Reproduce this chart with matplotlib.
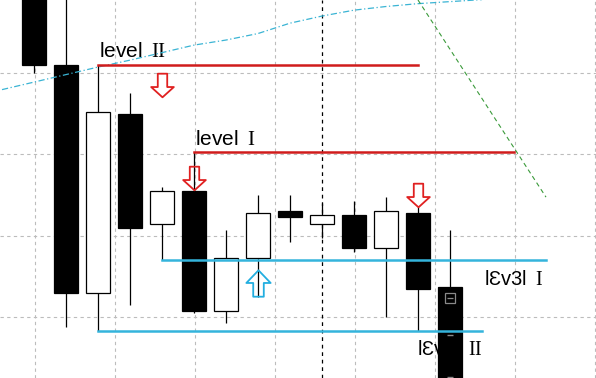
import numpy as np
import matplotlib.pyplot as plt
from matplotlib.path import Path

plt.rcParams['font.family'] = ['Liberation Sans', 'DejaVu Sans']
plt.rcParams['mathtext.fontset'] = 'custom'
plt.rcParams['mathtext.rm'] = 'Liberation Serif'

# bars (left to right), MT4 style
opens  = [1.3246, 1.3204, 1.3092, 1.3180, 1.3126, 1.3142, 1.3083, 1.3109, 1.3132, 1.3126, 1.3130, 1.3114, 1.3131, 1.3095]
highs  = [1.3251, 1.3241, 1.3204, 1.3190, 1.3144, 1.3161, 1.3123, 1.3140, 1.3140, 1.3136, 1.3137, 1.3139, 1.3134, 1.3123]
lows   = [1.3200, 1.3075, 1.3073, 1.3086, 1.3108, 1.3082, 1.3077, 1.3090, 1.3117, 1.3119, 1.3112, 1.3080, 1.3073, 1.3035]
closes = [1.3204, 1.3092, 1.3181, 1.3124, 1.3142, 1.3083, 1.3109, 1.3131, 1.3129, 1.3130, 1.3114, 1.3132, 1.3094, 1.3039]

# moving average
ma_idx = list(range(-1, 15))
ma_val = [1.31919, 1.31956, 1.31993, 1.32030, 1.32064, 1.32101, 1.32138, 1.32163,
          1.32195, 1.32246, 1.32281, 1.32310, 1.32328, 1.32342, 1.32352, 1.32362]

# trend line (green)
trend_idx = [12, 16]
trend_val = [1.32360, 1.31390]

# levels: (start bar, end bar, price)
red_levels = [(2, 12, 1.3204), (5, 15, 1.3161)]
cyan_levels = [(4, 16, 1.3108), (2, 14, 1.3073)]

# signal arrows
sell_idx = [4, 5, 12]
sell_val = [1.31944, 1.31486, 1.31400]
buy_idx = [7]
buy_val = [1.30967]

# selection handles on the last bar
handle_val = [1.30711, 1.30505]
icon_val = 1.30893

separator_bar = 9
grid_x = np.arange(0.03, 18, 2.5)
grid_y = [1.3080, 1.3120, 1.3160, 1.3200]

fig = plt.figure(figsize=(5.96, 3.78), dpi=100)
ax = fig.add_axes([0, 0, 1, 1])
ax.set_xlim(-1.0625, 17.5625)
ax.set_ylim(1.3050, 1.3236)
ax.set_xticks(grid_x)
ax.set_yticks(grid_y)
ax.tick_params(length=0, labelbottom=False, labelleft=False)
for s in ax.spines.values():
    s.set_visible(False)
ax.grid(True, color='#bcbcbc', linestyle=(0, (3, 3)), linewidth=0.8)
ax.set_axisbelow(True)

ax.axvline(separator_bar, color='black', linestyle=(0, (3, 3)), linewidth=0.9, zorder=1)

# text labels (candles hide part of them)
ax.text(2.03, 1.3208, r'level $\,\mathrm{II}$', fontsize=15, ha='left', va='baseline', zorder=2)
ax.text(5.02, 1.31646, r'level $\,\mathrm{I}$', fontsize=15, ha='left', va='baseline', zorder=2)
ax.text(15.9, 1.30957, r'lƐv3l $\,\mathrm{I}$', fontsize=14.5, ha='right', va='baseline', zorder=2)
ax.text(14.0, 1.30613, r'lƐv3l $\,\mathrm{II}$', fontsize=14.5, ha='right', va='baseline', zorder=2)

# candles
x = np.arange(len(opens))
o = np.array(opens); c = np.array(closes)
ax.vlines(x, lows, highs, color='black', linewidth=0.9, zorder=3)
up = c >= o
ax.bar(x, np.abs(c - o), bottom=np.minimum(o, c), width=0.78,
       color=np.where(up, 'white', 'black'), edgecolor='black', linewidth=0.9, zorder=4)

# handles
ax.plot(x[-1], icon_val, marker='s', markersize=7, mfc='black', mec='#8a8a8a', mew=0.9, zorder=5)
ax.plot(x[-1], icon_val, marker='_', markersize=5, mec='#8a8a8a', mew=0.9, zorder=6)
ax.plot([x[-1]] * len(handle_val), handle_val, marker='_', linestyle='none',
        markersize=5, mec='#8a8a8a', mew=1.0, zorder=6)

# moving average and trend line
ax.plot(ma_idx, ma_val, color='#3ab4d4', linestyle=(0, (5, 2, 1, 2)), linewidth=0.9, zorder=5)
ax.plot(trend_idx, trend_val, color='#3a9a3a', linestyle=(0, (4, 3)), linewidth=0.8, zorder=5)

for a, b, p in red_levels:
    ax.plot([a, b], [p, p], color='#d01c1c', linewidth=1.8, zorder=6)
for a, b, p in cyan_levels:
    ax.plot([a, b], [p, p], color='#34b4dc', linewidth=1.8, zorder=6)

# arrows
down = Path([(-0.2, 0.5), (0.2, 0.5), (0.2, -0.065), (0.48, -0.065), (0, -0.5),
             (-0.48, -0.065), (-0.2, -0.065), (-0.2, 0.5)], closed=True)
upa = Path([(-0.2, -0.5), (0.2, -0.5), (0.2, 0.02), (0.46, 0.02), (0, 0.5),
            (-0.46, 0.02), (-0.2, 0.02), (-0.2, -0.5)], closed=True)
ax.plot(sell_idx, sell_val, linestyle='none', marker=down, markersize=17,
        mfc='none', mec='#e02020', mew=1.3, zorder=7)
ax.plot(buy_idx, buy_val, linestyle='none', marker=upa, markersize=19,
        mfc='none', mec='#22aee0', mew=1.3, zorder=7)

fig.savefig('out.png', dpi=100)
